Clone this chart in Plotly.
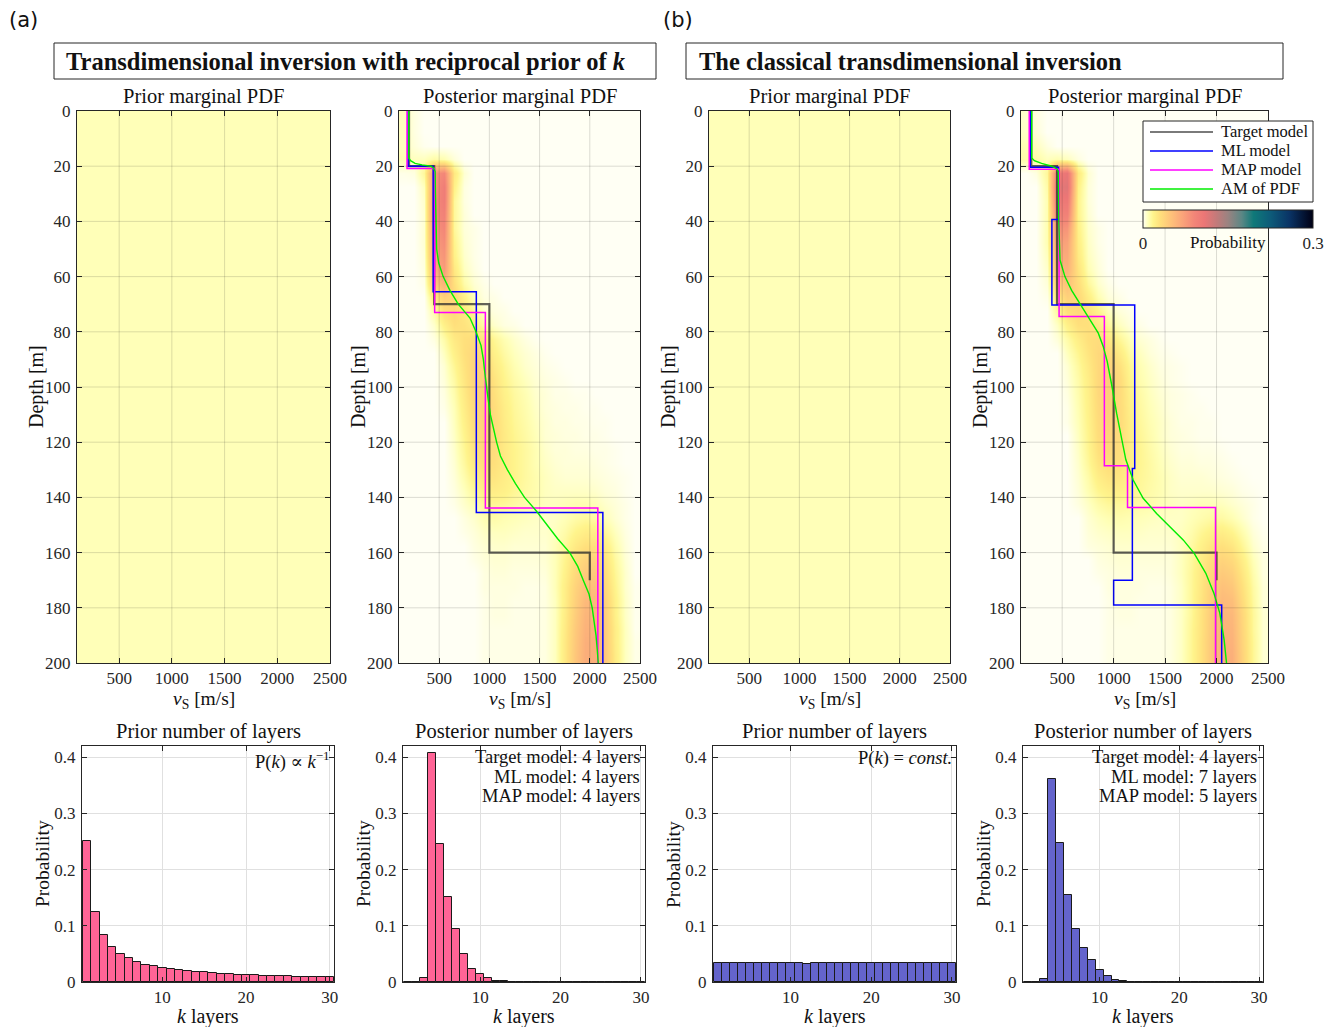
import plotly.graph_objects as go

W, H = 1330, 1027
SERIF = "Liberation Serif, DejaVu Serif, serif"
INK = "#262626"

# ---------------------------------------------------------------- data
vs_centers = [150, 250, 350, 450, 550, 650, 750, 850, 950, 1050, 1150, 1250,
              1350, 1450, 1550, 1650, 1750, 1850, 1950, 2050, 2150, 2250, 2350, 2450]
depth_centers = [2.5, 7.5, 12.5, 17.5, 22.5, 27.5, 32.5, 37.5, 42.5, 47.5,
                 52.5, 57.5, 62.5, 67.5, 72.5, 77.5, 82.5, 87.5, 92.5, 97.5,
                 102.5, 107.5, 112.5, 117.5, 122.5, 127.5, 132.5, 137.5, 142.5, 147.5,
                 152.5, 157.5, 162.5, 167.5, 172.5, 177.5, 182.5, 187.5, 192.5, 197.5]

# uniform prior marginal PDF level (probability)
prior_marginal_level = 0.009

# posterior marginal PDF, probability x 1000 (rows = depth, cols = vs)
post_a_permille = [
    [8, 3, 0, 0, 0, 0, 0, 0, 0, 0, 0, 0, 0, 0, 0, 0, 0, 0, 0, 0, 0, 0, 0, 0],
    [8, 3, 0, 0, 0, 0, 0, 0, 0, 0, 0, 0, 0, 0, 0, 0, 0, 0, 0, 0, 0, 0, 0, 0],
    [8, 4, 1, 0, 0, 0, 0, 0, 0, 0, 0, 0, 0, 0, 0, 0, 0, 0, 0, 0, 0, 0, 0, 0],
    [10, 8, 8, 12, 10, 4, 0, 0, 0, 0, 0, 0, 0, 0, 0, 0, 0, 0, 0, 0, 0, 0, 0, 0],
    [2, 3, 15, 80, 90, 25, 5, 0, 0, 0, 0, 0, 0, 0, 0, 0, 0, 0, 0, 0, 0, 0, 0, 0],
    [0, 0, 8, 80, 100, 20, 3, 0, 0, 0, 0, 0, 0, 0, 0, 0, 0, 0, 0, 0, 0, 0, 0, 0],
    [0, 0, 6, 85, 100, 15, 3, 0, 0, 0, 0, 0, 0, 0, 0, 0, 0, 0, 0, 0, 0, 0, 0, 0],
    [0, 0, 5, 85, 95, 15, 4, 0, 0, 0, 0, 0, 0, 0, 0, 0, 0, 0, 0, 0, 0, 0, 0, 0],
    [0, 0, 5, 80, 90, 15, 4, 2, 0, 0, 0, 0, 0, 0, 0, 0, 0, 0, 0, 0, 0, 0, 0, 0],
    [0, 0, 5, 75, 85, 18, 5, 2, 0, 0, 0, 0, 0, 0, 0, 0, 0, 0, 0, 0, 0, 0, 0, 0],
    [0, 0, 4, 70, 80, 20, 6, 2, 0, 0, 0, 0, 0, 0, 0, 0, 0, 0, 0, 0, 0, 0, 0, 0],
    [0, 0, 3, 60, 75, 25, 8, 3, 0, 0, 0, 0, 0, 0, 0, 0, 0, 0, 0, 0, 0, 0, 0, 0],
    [0, 0, 2, 45, 60, 30, 12, 5, 2, 0, 0, 0, 0, 0, 0, 0, 0, 0, 0, 0, 0, 0, 0, 0],
    [0, 0, 0, 25, 40, 35, 20, 8, 3, 2, 0, 0, 0, 0, 0, 0, 0, 0, 0, 0, 0, 0, 0, 0],
    [0, 0, 0, 12, 30, 35, 25, 15, 6, 3, 2, 0, 0, 0, 0, 0, 0, 0, 0, 0, 0, 0, 0, 0],
    [0, 0, 0, 6, 20, 30, 28, 22, 12, 6, 3, 2, 0, 0, 0, 0, 0, 0, 0, 0, 0, 0, 0, 0],
    [0, 0, 0, 3, 12, 24, 30, 32, 26, 16, 10, 6, 3, 1, 0, 0, 0, 0, 0, 0, 0, 0, 0, 0],
    [0, 0, 0, 0, 8, 20, 30, 36, 32, 20, 13, 8, 5, 3, 1, 0, 0, 0, 0, 0, 0, 0, 0, 0],
    [0, 0, 0, 0, 5, 16, 28, 38, 38, 24, 16, 10, 6, 4, 2, 1, 0, 0, 0, 0, 0, 0, 0, 0],
    [0, 0, 0, 0, 4, 13, 26, 38, 40, 28, 18, 12, 8, 5, 3, 2, 1, 0, 0, 0, 0, 0, 0, 0],
    [0, 0, 0, 0, 3, 11, 24, 37, 42, 30, 20, 14, 10, 6, 4, 2, 2, 1, 1, 0, 0, 0, 0, 0],
    [0, 0, 0, 0, 2, 9, 22, 35, 42, 32, 22, 15, 11, 7, 4, 3, 2, 2, 1, 1, 0, 0, 0, 0],
    [0, 0, 0, 0, 0, 8, 20, 33, 40, 33, 23, 16, 12, 8, 5, 3, 3, 2, 2, 1, 1, 0, 0, 0],
    [0, 0, 0, 0, 0, 7, 18, 31, 38, 33, 24, 17, 13, 9, 5, 4, 3, 3, 2, 2, 1, 0, 0, 0],
    [0, 0, 0, 0, 0, 6, 16, 28, 36, 32, 24, 18, 14, 10, 6, 4, 4, 3, 3, 2, 2, 1, 0, 0],
    [0, 0, 0, 0, 0, 5, 14, 25, 32, 30, 24, 18, 14, 10, 7, 5, 4, 4, 4, 3, 2, 1, 0, 0],
    [0, 0, 0, 0, 0, 4, 11, 20, 27, 27, 22, 18, 14, 11, 8, 6, 5, 5, 5, 4, 3, 2, 1, 0],
    [0, 0, 0, 0, 0, 3, 8, 15, 21, 22, 20, 16, 13, 11, 8, 7, 7, 7, 7, 6, 4, 3, 1, 0],
    [0, 0, 0, 0, 0, 2, 6, 10, 15, 16, 15, 13, 11, 10, 8, 8, 9, 10, 10, 9, 6, 4, 2, 0],
    [0, 0, 0, 0, 0, 0, 3, 6, 10, 12, 10, 9, 8, 7, 6, 7, 9, 12, 14, 13, 9, 5, 2, 0],
    [0, 0, 0, 0, 0, 0, 2, 4, 7, 8, 8, 7, 6, 6, 6, 8, 12, 18, 22, 22, 15, 8, 3, 0],
    [0, 0, 0, 0, 0, 0, 0, 3, 5, 6, 6, 5, 5, 5, 5, 9, 15, 24, 30, 30, 22, 11, 4, 0],
    [0, 0, 0, 0, 0, 0, 0, 2, 4, 5, 5, 4, 4, 4, 5, 9, 18, 30, 38, 38, 28, 14, 5, 0],
    [0, 0, 0, 0, 0, 0, 0, 0, 3, 4, 4, 3, 3, 3, 4, 9, 20, 34, 44, 44, 32, 16, 6, 0],
    [0, 0, 0, 0, 0, 0, 0, 0, 3, 3, 3, 3, 2, 2, 3, 9, 22, 38, 50, 50, 36, 18, 6, 1],
    [0, 0, 0, 0, 0, 0, 0, 0, 2, 3, 3, 2, 2, 2, 3, 8, 22, 40, 55, 55, 40, 20, 7, 1],
    [0, 0, 0, 0, 0, 0, 0, 0, 2, 3, 3, 2, 2, 2, 3, 8, 23, 42, 58, 58, 42, 20, 7, 1],
    [0, 0, 0, 0, 0, 0, 0, 0, 2, 2, 2, 2, 2, 2, 3, 8, 24, 44, 60, 60, 44, 22, 8, 1],
    [0, 0, 0, 0, 0, 0, 0, 0, 2, 2, 2, 2, 2, 2, 3, 8, 25, 45, 62, 62, 45, 22, 8, 2],
    [0, 0, 0, 0, 0, 0, 0, 0, 2, 2, 2, 2, 2, 2, 3, 8, 25, 46, 63, 63, 46, 23, 8, 2],
]

post_b_permille = [
    [6, 3, 0, 0, 0, 0, 0, 0, 0, 0, 0, 0, 0, 0, 0, 0, 0, 0, 0, 0, 0, 0, 0, 0],
    [7, 4, 0, 0, 0, 0, 0, 0, 0, 0, 0, 0, 0, 0, 0, 0, 0, 0, 0, 0, 0, 0, 0, 0],
    [10, 8, 3, 0, 0, 0, 0, 0, 0, 0, 0, 0, 0, 0, 0, 0, 0, 0, 0, 0, 0, 0, 0, 0],
    [12, 12, 8, 10, 8, 3, 0, 0, 0, 0, 0, 0, 0, 0, 0, 0, 0, 0, 0, 0, 0, 0, 0, 0],
    [0, 3, 15, 100, 110, 25, 5, 0, 0, 0, 0, 0, 0, 0, 0, 0, 0, 0, 0, 0, 0, 0, 0, 0],
    [0, 0, 12, 110, 115, 20, 4, 0, 0, 0, 0, 0, 0, 0, 0, 0, 0, 0, 0, 0, 0, 0, 0, 0],
    [0, 0, 10, 105, 105, 18, 4, 0, 0, 0, 0, 0, 0, 0, 0, 0, 0, 0, 0, 0, 0, 0, 0, 0],
    [0, 0, 10, 95, 95, 18, 5, 0, 0, 0, 0, 0, 0, 0, 0, 0, 0, 0, 0, 0, 0, 0, 0, 0],
    [0, 0, 10, 85, 80, 20, 6, 2, 0, 0, 0, 0, 0, 0, 0, 0, 0, 0, 0, 0, 0, 0, 0, 0],
    [0, 0, 10, 75, 70, 22, 7, 2, 0, 0, 0, 0, 0, 0, 0, 0, 0, 0, 0, 0, 0, 0, 0, 0],
    [0, 0, 8, 65, 65, 24, 8, 3, 0, 0, 0, 0, 0, 0, 0, 0, 0, 0, 0, 0, 0, 0, 0, 0],
    [0, 0, 6, 55, 60, 28, 10, 4, 0, 0, 0, 0, 0, 0, 0, 0, 0, 0, 0, 0, 0, 0, 0, 0],
    [0, 0, 4, 40, 50, 32, 15, 6, 2, 0, 0, 0, 0, 0, 0, 0, 0, 0, 0, 0, 0, 0, 0, 0],
    [0, 0, 2, 25, 40, 35, 22, 10, 4, 2, 0, 0, 0, 0, 0, 0, 0, 0, 0, 0, 0, 0, 0, 0],
    [0, 0, 0, 14, 30, 35, 28, 18, 8, 4, 2, 0, 0, 0, 0, 0, 0, 0, 0, 0, 0, 0, 0, 0],
    [0, 0, 0, 7, 20, 30, 30, 25, 15, 8, 4, 2, 0, 0, 0, 0, 0, 0, 0, 0, 0, 0, 0, 0],
    [0, 0, 0, 4, 12, 22, 30, 32, 26, 16, 9, 5, 3, 1, 0, 0, 0, 0, 0, 0, 0, 0, 0, 0],
    [0, 0, 0, 0, 8, 17, 27, 35, 35, 24, 13, 8, 4, 2, 1, 0, 0, 0, 0, 0, 0, 0, 0, 0],
    [0, 0, 0, 0, 5, 14, 24, 35, 40, 30, 17, 10, 6, 3, 2, 1, 0, 0, 0, 0, 0, 0, 0, 0],
    [0, 0, 0, 0, 4, 12, 22, 35, 42, 34, 19, 11, 7, 4, 2, 1, 0, 0, 0, 0, 0, 0, 0, 0],
    [0, 0, 0, 0, 3, 11, 21, 35, 42, 34, 21, 13, 8, 5, 3, 2, 1, 0, 0, 0, 0, 0, 0, 0],
    [0, 0, 0, 0, 2, 10, 20, 34, 42, 34, 22, 14, 9, 6, 3, 2, 1, 1, 0, 0, 0, 0, 0, 0],
    [0, 0, 0, 0, 2, 9, 19, 33, 40, 34, 23, 15, 10, 7, 4, 2, 2, 1, 1, 0, 0, 0, 0, 0],
    [0, 0, 0, 0, 0, 8, 18, 32, 38, 33, 23, 16, 11, 7, 4, 3, 2, 1, 1, 0, 0, 0, 0, 0],
    [0, 0, 0, 0, 0, 7, 17, 30, 36, 32, 23, 17, 12, 8, 5, 3, 3, 2, 2, 1, 0, 0, 0, 0],
    [0, 0, 0, 0, 0, 6, 15, 27, 32, 30, 23, 17, 13, 9, 6, 4, 4, 3, 3, 2, 1, 0, 0, 0],
    [0, 0, 0, 0, 0, 5, 12, 22, 27, 26, 21, 16, 13, 10, 7, 5, 5, 5, 4, 3, 2, 1, 0, 0],
    [0, 0, 0, 0, 0, 4, 10, 17, 21, 21, 18, 15, 12, 10, 7, 6, 6, 6, 6, 5, 4, 2, 1, 0],
    [0, 0, 0, 0, 0, 3, 7, 12, 15, 15, 14, 12, 11, 9, 8, 7, 8, 9, 9, 8, 6, 4, 2, 0],
    [0, 0, 0, 0, 0, 0, 5, 8, 10, 11, 10, 9, 8, 7, 7, 7, 9, 11, 13, 13, 10, 6, 2, 0],
    [0, 0, 0, 0, 0, 0, 4, 6, 7, 8, 8, 7, 6, 6, 6, 8, 11, 16, 20, 22, 18, 11, 4, 1],
    [0, 0, 0, 0, 0, 0, 3, 4, 5, 6, 6, 5, 5, 5, 5, 8, 13, 20, 27, 30, 26, 16, 6, 2],
    [0, 0, 0, 0, 0, 0, 0, 3, 4, 5, 5, 4, 4, 4, 4, 8, 14, 23, 32, 38, 34, 22, 9, 3],
    [0, 0, 0, 0, 0, 0, 0, 2, 3, 4, 4, 3, 3, 3, 4, 8, 15, 25, 36, 44, 40, 26, 11, 3],
    [0, 0, 0, 0, 0, 0, 0, 0, 3, 3, 3, 3, 2, 2, 3, 7, 15, 26, 40, 50, 46, 30, 13, 4],
    [0, 0, 0, 0, 0, 0, 0, 0, 2, 3, 3, 2, 2, 2, 3, 7, 15, 27, 42, 55, 52, 33, 14, 4],
    [0, 0, 0, 0, 0, 0, 0, 0, 2, 3, 3, 2, 2, 2, 3, 7, 15, 28, 44, 58, 56, 36, 15, 5],
    [0, 0, 0, 0, 0, 0, 0, 0, 2, 2, 2, 2, 2, 2, 3, 7, 16, 28, 45, 60, 58, 37, 15, 5],
    [0, 0, 0, 0, 0, 0, 0, 0, 2, 2, 2, 2, 2, 2, 3, 7, 16, 29, 46, 62, 60, 38, 16, 5],
    [0, 0, 0, 0, 0, 0, 0, 0, 2, 2, 2, 2, 2, 2, 3, 7, 16, 29, 46, 63, 62, 39, 16, 5],
]

# layered models: top depth of each layer [m], vs [m/s], bottom depth drawn
target_tops = [0, 20, 70, 160]
target_vs = [200, 450, 1000, 2000]
target_bottom = 170

ml_a_tops = [0, 20, 65.5, 145.5]
ml_a_vs = [190, 440, 870, 2130]
map_a_tops = [0, 20.8, 73, 143.8]
map_a_vs = [180, 455, 960, 2080]

ml_b_tops = [0, 20.4, 39.3, 70.3, 129.5, 170, 179]
ml_b_vs = [190, 465, 400, 1205, 1182, 1000, 2050]
map_b_tops = [0, 21.1, 74.5, 128.5, 143.7]
map_b_vs = [180, 470, 910, 1135, 1990]
model_bottom = 200

# arithmetic mean of the posterior PDF
am_a_depth = [0, 17, 18, 19, 19.5, 20, 21, 22, 30, 40, 50, 55, 60, 65, 70, 75, 80, 85, 90, 95,
              100, 105, 110, 115, 120, 125, 130, 135, 140, 145, 150, 155, 160, 165, 170, 175,
              180, 185, 190, 195, 200]
am_a_vs = [197, 197, 215, 260, 330, 420, 450, 460, 463, 466, 475, 495, 540, 607, 690, 807,
           867, 917, 940, 955, 970, 990, 1010, 1040, 1072, 1110, 1180, 1260, 1350, 1470, 1575,
           1680, 1800, 1880, 1935, 1992, 2024, 2045, 2062, 2074, 2084]
am_b_depth = [0, 17, 18, 19, 20, 21, 22, 30, 40, 54, 60, 65, 70, 75.7, 80.5, 85.4, 90.8,
              100, 109.5, 120.4, 126.4, 133.7, 140.3, 145.8, 149.4, 155.4, 160.3, 167.5,
              174.7, 182, 191.7, 200]
am_b_vs = [204, 204, 230, 300, 400, 450, 462, 464, 467, 479, 527, 592, 673, 770, 851, 900,
           938, 985, 1029, 1087, 1119, 1190, 1287, 1417, 1515, 1676, 1783, 1896, 1974, 2032,
           2074, 2097]

# number of layers
k_layers = [1, 2, 3, 4, 5, 6, 7, 8, 9, 10, 11, 12, 13, 14, 15,
            16, 17, 18, 19, 20, 21, 22, 23, 24, 25, 26, 27, 28, 29, 30]
prior_k_a = [0.251, 0.125, 0.083, 0.062, 0.050, 0.042, 0.036, 0.031, 0.028, 0.025,
             0.023, 0.021, 0.019, 0.018, 0.017, 0.016, 0.015, 0.014, 0.013, 0.0125,
             0.012, 0.0114, 0.011, 0.0105, 0.010, 0.0097, 0.0093, 0.009, 0.0087, 0.0084]
post_k_a = [0, 0, 0.008, 0.407, 0.245, 0.151, 0.095, 0.050, 0.023, 0.015,
            0.007, 0.002, 0.001, 0.0005, 0.0003, 0.0002, 0.0001, 0, 0, 0,
            0, 0, 0, 0, 0, 0, 0, 0, 0, 0]
prior_k_b = [0.0335, 0.0335, 0.0334, 0.0334, 0.0335, 0.0334, 0.0333, 0.0331, 0.0331, 0.0332,
             0.0330, 0.0329, 0.0330, 0.0330, 0.0330, 0.0331, 0.0331, 0.0334, 0.0334, 0.0334,
             0.0336, 0.0336, 0.0335, 0.0336, 0.0337, 0.0337, 0.0337, 0.0337, 0.0335, 0.0336]
post_k_b = [0, 0, 0.006, 0.362, 0.248, 0.154, 0.095, 0.061, 0.040, 0.022,
            0.010, 0.004, 0.0015, 0.0008, 0.0004, 0.0003, 0.0002, 0.0001, 0, 0,
            0, 0, 0, 0, 0, 0, 0, 0, 0, 0]

vs_ticks = [500, 1000, 1500, 2000, 2500]
depth_ticks = [0, 20, 40, 60, 80, 100, 120, 140, 160, 180, 200]
k_ticks = [10, 20, 30]
prob_ticks = [0, 0.1, 0.2, 0.3, 0.4]
prob_ticklabels = ["0", "0.1", "0.2", "0.3", "0.4"]
cbar_minor_ticks = [0.05, 0.1, 0.15, 0.2, 0.25]
legend_names = ["Target model", "ML model", "MAP model", "AM of PDF"]

# ---------------------------------------------------------------- layout geometry (pixels)
top_x = [(77, 330), (399, 640), (709, 950), (1021, 1268)]
bot_x = [(82, 334), (403, 645), (713, 956), (1023, 1263)]
top_y = (111, 663)
bot_y = (746, 982)
cbar_x = (1143, 1313)
cbar_y = (210, 228)


def fx(p):
    return p / W


def fy(p):
    return 1 - p / H


colorscale = [
    [0.0, "#fffff4"], [0.03, "#ffffb8"], [0.06, "#fff48c"], [0.1, "#ffe07c"],
    [0.16, "#fec47a"], [0.23, "#faa57a"], [0.3, "#f38678"], [0.36, "#ec7676"],
    [0.43, "#c47a7a"], [0.5, "#9a8381"], [0.58, "#5c8785"], [0.65, "#0f7979"],
    [0.75, "#0d5b79"], [0.86, "#0a3466"], [1.0, "#000014"],
]
cmax = 0.3

fig = go.Figure()

prior_z = [[prior_marginal_level for _ in vs_centers] for _ in depth_centers]
post_a_z = [[v / 1000 for v in row] for row in post_a_permille]
post_b_z = [[v / 1000 for v in row] for row in post_b_permille]

for i, z in enumerate([prior_z, post_a_z, prior_z, post_b_z]):
    n = i + 1
    fig.add_trace(go.Heatmap(
        x=vs_centers, y=depth_centers, z=z, coloraxis="coloraxis",
        zsmooth="best" if i in (1, 3) else False,
        xaxis=f"x{n}", yaxis=f"y{n}", hoverinfo="skip", showscale=False))


def step(tops, vs, bottom):
    return list(vs) + [vs[-1]], list(tops) + [bottom]


line_styles = {
    "Target model": dict(color="rgba(45,45,45,0.75)", width=2.2),
    "ML model": dict(color="#0000ff", width=1.5),
    "MAP model": dict(color="#ff00ff", width=1.5),
    "AM of PDF": dict(color="#00ee00", width=1.4),
}

panels_models = [
    (2, (target_tops, target_vs, target_bottom), (ml_a_tops, ml_a_vs), (map_a_tops, map_a_vs),
     (am_a_depth, am_a_vs)),
    (4, (target_tops, target_vs, target_bottom), (ml_b_tops, ml_b_vs), (map_b_tops, map_b_vs),
     (am_b_depth, am_b_vs)),
]
for n, tgt, ml, mp, am in panels_models:
    xs, ys = step(*tgt)
    fig.add_trace(go.Scatter(x=xs, y=ys, mode="lines", line_shape="vh", name="Target model",
                             line=line_styles["Target model"], xaxis=f"x{n}", yaxis=f"y{n}",
                             showlegend=False, hoverinfo="skip"))
    xs, ys = step(ml[0], ml[1], model_bottom)
    fig.add_trace(go.Scatter(x=xs, y=ys, mode="lines", line_shape="vh", name="ML model",
                             line=line_styles["ML model"], xaxis=f"x{n}", yaxis=f"y{n}",
                             showlegend=False, hoverinfo="skip"))
    xs, ys = step(mp[0], mp[1], model_bottom)
    fig.add_trace(go.Scatter(x=xs, y=ys, mode="lines", line_shape="vh", name="MAP model",
                             line=line_styles["MAP model"], xaxis=f"x{n}", yaxis=f"y{n}",
                             showlegend=False, hoverinfo="skip"))
    fig.add_trace(go.Scatter(x=am[1], y=am[0], mode="lines", name="AM of PDF",
                             line=line_styles["AM of PDF"], xaxis=f"x{n}", yaxis=f"y{n}",
                             showlegend=False, hoverinfo="skip"))

bar_sets = [(5, prior_k_a, "#ff6496"), (6, post_k_a, "#ff6496"),
            (7, prior_k_b, "#6464cc"), (8, post_k_b, "#6464cc")]
for n, vals, col in bar_sets:
    fig.add_trace(go.Bar(x=k_layers, y=vals, width=1.0,
                         marker=dict(color=col, line=dict(color="#1a1a1a", width=1)),
                         xaxis=f"x{n}", yaxis=f"y{n}", showlegend=False, hoverinfo="skip"))

axis_common = dict(showline=True, linecolor=INK, linewidth=1, mirror="ticks", ticks="inside",
                   ticklen=5, tickcolor=INK, tickfont=dict(family=SERIF, size=17, color=INK),
                   zeroline=False, layer="above traces", fixedrange=True, automargin=False)

layout_axes = {}
for i in range(4):
    n = i + 1
    sfx = "" if n == 1 else str(n)
    layout_axes[f"xaxis{sfx}"] = dict(axis_common, domain=[fx(top_x[i][0]), fx(top_x[i][1])],
                                      range=[100, 2500], tickvals=vs_ticks, showgrid=False,
                                      anchor=f"y{sfx}", ticklabelstandoff=0)
    layout_axes[f"yaxis{sfx}"] = dict(axis_common, domain=[fy(top_y[1]), fy(top_y[0])],
                                      range=[200, 0], tickvals=depth_ticks, showgrid=False,
                                      anchor=f"x{sfx}", ticklabelstandoff=2)
for i in range(4):
    n = i + 5
    layout_axes[f"xaxis{n}"] = dict(axis_common, domain=[fx(bot_x[i][0]), fx(bot_x[i][1])],
                                    range=[0.4, 30.5], tickvals=k_ticks, showgrid=True,
                                    gridcolor="#e0e0e0", anchor=f"y{n}", ticklabelstandoff=0)
    layout_axes[f"yaxis{n}"] = dict(axis_common, domain=[fy(bot_y[1]), fy(bot_y[0])],
                                    range=[0, 0.42], tickvals=prob_ticks, ticktext=prob_ticklabels,
                                    showgrid=True, gridcolor="#e0e0e0", anchor=f"x{n}",
                                    ticklabelstandoff=2)

shapes = []
# grid lines on top of the PDF images
for n in range(1, 5):
    for v in vs_ticks[:-1]:
        shapes.append(dict(type="line", xref=f"x{n}", yref=f"y{n}", x0=v, x1=v, y0=0, y1=200,
                           line=dict(color="rgba(38,38,38,0.16)", width=1), layer="above"))
    for d in depth_ticks[1:-1]:
        shapes.append(dict(type="line", xref=f"x{n}", yref=f"y{n}", x0=100, x1=2500, y0=d, y1=d,
                           line=dict(color="rgba(38,38,38,0.16)", width=1), layer="above"))
# title boxes
for (x0, x1) in [(54, 656), (686, 1283)]:
    shapes.append(dict(type="rect", xref="paper", yref="paper", x0=fx(x0), x1=fx(x1),
                       y0=fy(79), y1=fy(43), line=dict(color=INK, width=1), fillcolor="white",
                       layer="below"))
# small inner ticks of the colour bar
for t in cbar_minor_ticks:
    px = cbar_x[0] + (cbar_x[1] - cbar_x[0]) * t / cmax
    shapes.append(dict(type="line", xref="paper", yref="paper", x0=fx(px), x1=fx(px),
                       y0=fy(cbar_y[1]), y1=fy(cbar_y[1] - 3), line=dict(color=INK, width=1),
                       layer="above"))

ann = []


def text(x, y, s, size=17, xanchor="center", yanchor="middle", angle=0, family=SERIF,
         align="center", color="#111111"):
    ann.append(dict(x=fx(x), y=fy(y), xref="paper", yref="paper", text=s, showarrow=False,
                    xanchor=xanchor, yanchor=yanchor, textangle=angle, align=align,
                    font=dict(family=family, size=size, color=color)))


# legend (drawn as a boxed key inside the last PDF panel)
shapes.append(dict(type="rect", xref="paper", yref="paper", x0=fx(1143), x1=fx(1313),
                   y0=fy(202), y1=fy(121), line=dict(color=INK, width=1), fillcolor="white",
                   layer="above"))
legend_key_styles = [dict(color="#7a7a7a", width=2.2), dict(color="#0000ff", width=1.5),
                     dict(color="#ff00ff", width=1.5), dict(color="#00ee00", width=1.5)]
for j, name in enumerate(legend_names):
    yy = 132 + 19 * j
    shapes.append(dict(type="line", xref="paper", yref="paper", x0=fx(1150), x1=fx(1213),
                       y0=fy(yy), y1=fy(yy), line=legend_key_styles[j], layer="above"))
    text(1219, yy, name, size=16.5, xanchor="left")

text(7, 20, "(a)", size=21, xanchor="left", family="DejaVu Sans, sans-serif")
text(661, 20, "(b)", size=21, xanchor="left", family="DejaVu Sans, sans-serif")
text(64, 61, "<b>Transdimensional inversion with reciprocal prior of </b><b><i>k</i></b>",
     size=24.5, xanchor="left")
text(697, 61, "<b>The classical transdimensional inversion</b>", size=24.5, xanchor="left")

top_titles = ["Prior marginal PDF", "Posterior marginal PDF", "Prior marginal PDF",
              "Posterior marginal PDF"]
bot_titles = ["Prior number of layers", "Posterior number of layers", "Prior number of layers",
              "Posterior number of layers"]
for i in range(4):
    cx = (top_x[i][0] + top_x[i][1]) / 2
    text(cx, 97, top_titles[i], size=20.5)
    text(cx, 700, "<i>v</i><sub>S</sub> [m/s]", size=19.5)
    text(top_x[i][0] - 41, (top_y[0] + top_y[1]) / 2, "Depth [m]", size=20, angle=-90)
    bx = (bot_x[i][0] + bot_x[i][1]) / 2
    text(bx, 731, bot_titles[i], size=20.5)
    text(bx, 1016, "<i>k</i> layers", size=20)
    text(bot_x[i][0] - 40, (bot_y[0] + bot_y[1]) / 2, "Probability", size=19.5, angle=-90)

text(332, 760, "P(<i>k</i>) ∝ <i>k</i><sup>−1</sup>", size=18.5, xanchor="right")
text(954, 758, "P(<i>k</i>) = <i>const.</i>", size=18.5, xanchor="right")
notes_a = ["Target model: 4 layers", "ML model: 4 layers", "MAP model: 4 layers"]
notes_b = ["Target model: 4 layers", "ML model: 7 layers", "MAP model: 5 layers"]
for j in range(3):
    text(642, 757 + 19.5 * j, notes_a[j], size=18.5, xanchor="right")
    text(1259, 757 + 19.5 * j, notes_b[j], size=18.5, xanchor="right")
text(1228, 242, "Probability", size=17)

fig.update_layout(
    width=W, height=H, margin=dict(l=0, r=0, t=0, b=0, autoexpand=False),
    paper_bgcolor="white", plot_bgcolor="white",
    font=dict(family=SERIF, color=INK),
    coloraxis=dict(cmin=0, cmax=cmax, colorscale=colorscale,
                   colorbar=dict(orientation="h", x=fx((cbar_x[0] + cbar_x[1]) / 2),
                                 xanchor="center", y=fy(cbar_y[0]), yanchor="top",
                                 len=cbar_x[1] - cbar_x[0], lenmode="pixels",
                                 thickness=cbar_y[1] - cbar_y[0], thicknessmode="pixels",
                                 outlinewidth=1, outlinecolor=INK,
                                 tickvals=[0, 0.3], ticktext=["0", "0.3"],
                                 ticks="inside", ticklen=3, tickcolor=INK,
                                 tickfont=dict(family=SERIF, size=17, color=INK),
                                 xpad=0, ypad=0)),
    shapes=shapes, annotations=ann, bargap=0, showlegend=False,
    **layout_axes,
)

fig.write_html("out.html", config={"displayModeBar": False},
               post_script="document.body.style.margin='0px';document.body.style.overflow='hidden';")
